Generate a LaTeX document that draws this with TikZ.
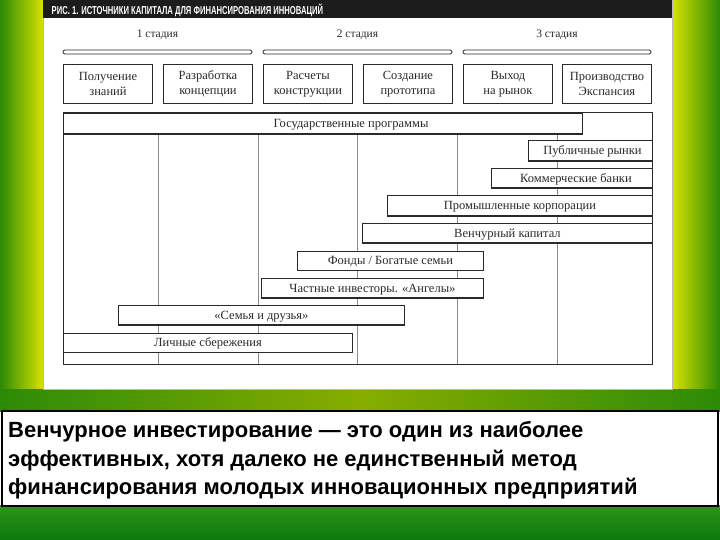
\documentclass[tikz,border=0pt]{standalone}
\usepackage{graphicx}
\usepackage{fontspec}
\setmainfont{Liberation Serif}
\newfontfamily\sansfam{Liberation Sans}
\definecolor{ink}{HTML}{2A2A2A}
\definecolor{gridc}{HTML}{8C8C8C}
\definecolor{hdr}{HTML}{1C1C1C}
\definecolor{bgG}{HTML}{2C8A06}
\definecolor{bgY}{HTML}{D8E200}
\definecolor{bgO}{HTML}{88AD00}
\definecolor{bgBa}{HTML}{2C9618}
\definecolor{bgBb}{HTML}{0C780C}
\newcommand{\mkbar}[6]{%
  \node[barbox, minimum width={(#4-#2)*1pt}, minimum height={(#5-#3)*1pt}] (#1) at (#2,#3) {#6};
  \draw[ink, line width=1.8pt] ([yshift=0.5pt]#1.south west) -- ([yshift=0.5pt]#1.south east);}
\begin{document}
\begin{tikzpicture}[x=1pt,y=-1pt,
  stagebox/.style={draw=ink, line width=0.9pt, fill=white, minimum width=89pt,
    minimum height=39pt, inner sep=0pt, anchor=north west, align=center, text=ink,
    font=\fontsize{12.5}{14.7}\selectfont},
  barbox/.style={draw=ink, line width=0.9pt, fill=white, inner sep=0pt,
    anchor=north west, text=ink, text height=8pt, text depth=0pt,
    font=\fontsize{12.5}{14}\selectfont},
  stagebar/.style={draw=ink, line width=0.8pt, fill=white, rounded corners=1.5pt},
  stagelbl/.style={text=ink, font=\fontsize{11.5}{13}\selectfont, inner sep=0pt},
  gridline/.style={draw=gridc, line width=0.6pt},
  bottomtxt/.style={anchor=base west, inner sep=0pt, text=black,
    font=\sansfam\bfseries\fontsize{22}{29.5}\selectfont}
]
\useasboundingbox (0,0) rectangle (720,540);
% ---------- background ----------
\shade[left color=bgG, right color=bgY] (0,0) rectangle (43,390);
\shade[left color=bgY, right color=bgG] (672,0) rectangle (720,390);
\shade[left color=bgG, right color=bgG, middle color=bgO] (0,389) rectangle (720,411);
\shade[top color=bgBa, bottom color=bgBb] (0,505) rectangle (720,540);
% ---------- panel ----------
\draw[fill=white, draw=gray!55, line width=1pt] (43,-1) rectangle (672,389);
\fill[hdr] (43,0) rectangle (672,18);
\node[anchor=west, inner sep=0pt, text=white,
  font=\sansfam\bfseries\fontsize{11.5}{12}\selectfont] (title) at (51.5,10.5)
  {\scalebox{0.665}[1]{РИС. 1. ИСТОЧНИКИ КАПИТАЛА ДЛЯ ФИНАНСИРОВАНИЯ ИННОВАЦИЙ}};
% ---------- stages ----------
\node[stagelbl] (s1) at (157.5,35) {1 стадия};
\node[stagelbl] (s2) at (357.5,35) {2 стадия};
\node[stagelbl] (s3) at (557,35) {3 стадия};
\draw[stagebar] (63,50) rectangle (252,54);
\draw[stagebar] (263,50) rectangle (452,54);
\draw[stagebar] (463,50) rectangle (651,54);
\node[stagebox] (b1) at (63,64)  {Получение\\знаний};
\node[stagebox] (b2) at (163,64) {Разработка\\концепции};
\node[stagebox] (b3) at (263,64) {Расчеты\\конструкции};
\node[stagebox] (b4) at (363,64) {Создание\\прототипа};
\node[stagebox] (b5) at (463,64) {Выход\\на рынок};
\node[stagebox] (b6) at (562,64) {Производство\\Экспансия};
% ---------- grid ----------
\foreach \gx in {158,258,357,457,557} \draw[gridline] (\gx,134) -- (\gx,364);
\draw[draw=ink, line width=1pt] (63,113) rectangle (652,364);
% ---------- source bars ----------
\mkbar{gos}{63}{113}{582}{134}{}
\node[text=ink, font=\fontsize{12.5}{14}\selectfont, text height=8pt, text depth=0pt, inner sep=0pt] (goslbl) at (351,123.5) {Государственные программы};
\mkbar{publ}{528}{140}{652}{160.5}{\hspace*{4pt}Публичные рынки}
\mkbar{komm}{491}{168}{652}{187.5}{\hspace*{8pt}Коммерческие банки}
\mkbar{prom}{387}{195.5}{652}{215.5}{Промышленные корпорации}
\mkbar{venc}{362}{223}{652}{242.5}{Венчурный капитал}
\mkbar{fond}{297}{250.5}{483}{270}{Фонды / Богатые семьи}
\mkbar{angel}{261}{278}{483}{297.5}{Частные инвесторы. «Ангелы»}
\mkbar{fam}{118}{305}{404}{324.5}{«Семья и друзья»}
\mkbar{lich}{63}{332.5}{352}{352}{Личные сбережения}
% ---------- bottom text ----------
\draw[fill=white, draw=black, line width=2.2pt] (2,411) rectangle (718,506);
\node[bottomtxt] (t1) at (8,437) {Венчурное инвестирование — это один из наиболее};
\node[bottomtxt] (t2) at (8,466) {эффективных, хотя далеко не единственный метод};
\node[bottomtxt] (t3) at (8,494.5) {финансирования молодых инновационных предприятий};
\end{tikzpicture}
\end{document}
